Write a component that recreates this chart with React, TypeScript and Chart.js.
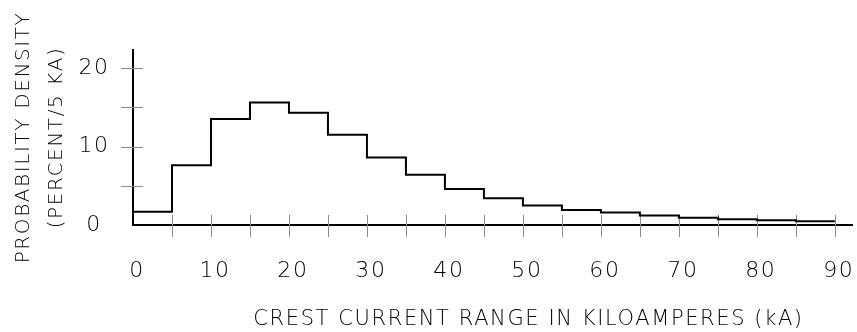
import React, { useEffect, useRef } from 'react';
import { Chart, registerables } from 'chart.js';

Chart.register(...registerables);

// Histogram of crest current: left edge of each 5 kA bin and its probability density (% per 5 kA)
const binEdgesKA = [0, 5, 10, 15, 20, 25, 30, 35, 40, 45, 50, 55, 60, 65, 70, 75, 80, 85];
const densityPercent = [1.7, 7.6, 13.5, 15.6, 14.3, 11.5, 8.6, 6.4, 4.6, 3.4, 2.5, 1.9, 1.6, 1.2, 0.93, 0.72, 0.6, 0.47];
const binWidthKA = 5;

// Axis ticks and labels
const xTickStep = 5;
const xLabelStep = 10;
const xMax = 92.2;
const yTickStep = 5;
const yLabelStep = 10;
const yMax = 22.3;

const xTitle = 'CREST CURRENT RANGE IN KILOAMPERES (kA)';
const yTitle = ['PROBABILITY DENSITY', '(PERCENT/5 KA)'];

const FONT_FAMILY = '"DejaVu Sans", sans-serif';
const INK = '#000';
const TICK_GRAY = '#8a8a8a';
const SPACING = '1.6px';

// Short tick marks that straddle each axis line
const crossTicks = {
  id: 'crossTicks',
  beforeDatasetsDraw(chart: any) {
    const { ctx, chartArea } = chart;
    const xs = chart.scales.x;
    const ys = chart.scales.y;
    ctx.save();
    ctx.strokeStyle = TICK_GRAY;
    ctx.lineWidth = 1;
    ctx.beginPath();
    xs.ticks.forEach((t: any) => {
      if (t.value === 0) return;
      const px = Math.round(xs.getPixelForValue(t.value)) + 0.5;
      ctx.moveTo(px, chartArea.bottom - 10);
      ctx.lineTo(px, chartArea.bottom + 12);
    });
    ys.ticks.forEach((t: any) => {
      if (t.value === 0) return;
      const py = Math.round(ys.getPixelForValue(t.value)) + 0.5;
      ctx.moveTo(chartArea.left - 12, py);
      ctx.lineTo(chartArea.left + 10, py);
    });
    ctx.stroke();
    ctx.restore();
  },
};

// Wide letter spacing for all text, plus the x-axis caption set right of centre
const lettering = {
  id: 'lettering',
  beforeDraw(chart: any) {
    chart.ctx.letterSpacing = SPACING;
  },
  afterDraw(chart: any, _args: any, opts: any) {
    const { ctx, chartArea } = chart;
    ctx.save();
    ctx.letterSpacing = SPACING;
    ctx.font = `200 ${opts.size}px ${FONT_FAMILY}`;
    ctx.fillStyle = INK;
    ctx.textAlign = 'center';
    ctx.textBaseline = 'alphabetic';
    const cx = (chartArea.left + chartArea.right) / 2 + opts.shift;
    ctx.fillText(opts.text, cx, chartArea.bottom + opts.drop);
    ctx.restore();
  },
};

export default function App() {
  const canvasRef = useRef<HTMLCanvasElement | null>(null);

  useEffect(() => {
    document.body.style.margin = '0';
    const canvas = canvasRef.current;
    if (!canvas) return;

    const points = binEdgesKA.map((edge, i) => ({ x: edge, y: densityPercent[i] }));
    points.push({
      x: binEdgesKA[binEdgesKA.length - 1] + binWidthKA,
      y: densityPercent[densityPercent.length - 1],
    });

    const tickFont = { family: FONT_FAMILY, size: 22, weight: 200 as any };

    const chart = new Chart(canvas, {
      type: 'line',
      data: {
        datasets: [
          {
            data: points,
            stepped: true,
            borderColor: INK,
            borderWidth: 2,
            pointRadius: 0,
            fill: false,
          },
        ],
      },
      options: {
        responsive: false,
        animation: false,
        events: [],
        layout: { padding: { top: 50, right: 5, left: 0, bottom: 0 } },
        plugins: {
          legend: { display: false },
          tooltip: { enabled: false },
          lettering: { text: xTitle, size: 21, shift: 36, drop: 100 },
        } as any,
        scales: {
          x: {
            type: 'linear',
            min: 0,
            max: xMax,
            grid: { display: false, drawTicks: false },
            border: { display: true, color: INK, width: 2 },
            afterFit(scale: any) {
              scale.height = 107;
              scale.paddingLeft = 0;
              scale.paddingRight = 0;
            },
            ticks: {
              stepSize: xTickStep,
              includeBounds: false,
              autoSkip: false,
              maxRotation: 0,
              padding: 33,
              labelOffset: 4,
              color: INK,
              font: tickFont,
              callback: (v: any) => (Number(v) % xLabelStep === 0 ? String(v) : ''),
            },
          },
          y: {
            type: 'linear',
            min: 0,
            max: yMax,
            grid: { display: false, drawTicks: false },
            border: { display: true, color: INK, width: 2 },
            afterFit(scale: any) {
              scale.width = 133;
              scale.paddingTop = 0;
              scale.paddingBottom = 0;
            },
            title: {
              display: true,
              text: yTitle,
              color: INK,
              font: { family: FONT_FAMILY, size: 20, weight: 200 as any, lineHeight: 1.65 },
              padding: { top: 7, bottom: 0 },
            },
            ticks: {
              stepSize: yTickStep,
              includeBounds: false,
              autoSkip: false,
              crossAlign: 'center',
              padding: 25,
              color: INK,
              font: tickFont,
              callback: (v: any) => (Number(v) % yLabelStep === 0 ? String(v) : ''),
            },
          },
        },
      },
      plugins: [crossTicks, lettering],
    });

    return () => chart.destroy();
  }, []);

  return (
    <div style={{ width: 857, height: 332 }}>
      <canvas ref={canvasRef} width={857} height={332} />
    </div>
  );
}
